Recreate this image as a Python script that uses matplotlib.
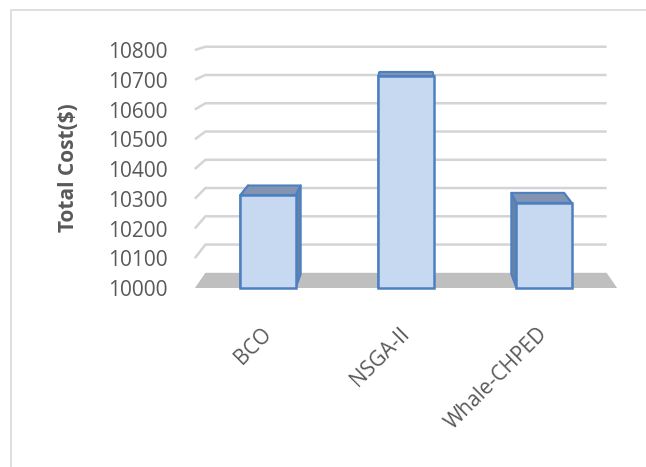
import matplotlib
matplotlib.use("Agg")
import matplotlib.pyplot as plt
from matplotlib.patches import Polygon, Rectangle

# Total generation cost per method
methods = ["BCO", "NSGA-II", "Whale-CHPED"]
total_cost = [10312, 10712, 10286]
y_ticks = [10000, 10100, 10200, 10300, 10400, 10500, 10600, 10700, 10800]

BASE = 10000
BAR_W = 0.4
# floor extent in category units and a simple one-point perspective
FLOOR_L, FLOOR_R = -0.53, 2.53
VX, VY = 1.0, 11020
T_WALL = 0.05
T_BAR = 0.046

TEXT = "#595959"
GRID = "#d4d4d4"
FLOOR = "#bfbfbf"
FRONT = "#c6d9f0"
EDGE = "#4d80c0"
TOP = "#8294b2"
SIDE = "#6a82a8"


def proj(x, y, t):
    """Push a point from the front plane toward the vanishing point."""
    return (x + (VX - x) * t, y + (VY - y) * t)


plt.rcParams["font.family"] = ["Open Sans", "DejaVu Sans"]

fig = plt.figure(figsize=(6.46, 4.67), dpi=100)
ax = fig.add_axes([180 / 646, 167 / 467, 450 / 646, 270 / 467])
ax.set_xlim(-88 / 138, 362 / 138)
ax.set_ylim(BASE - 12 / 0.2975, BASE + 258 / 0.2975)

# chart frame (only the left and top edges fall inside the image)
fig.add_artist(Rectangle((11 / 646, -0.1), 1.2, 1 - 10 / 467 + 0.1,
                         transform=fig.transFigure, fill=False,
                         edgecolor="#d9d9d9", linewidth=1.2))

# floor
floor = [(FLOOR_L, BASE), (FLOOR_R, BASE),
         proj(FLOOR_R, BASE, T_WALL), proj(FLOOR_L, BASE, T_WALL)]
ax.add_patch(Polygon(floor, closed=True, facecolor=FLOOR, edgecolor="none", zorder=1))

# back wall gridlines with the short diagonal along the side wall
for v in y_ticks[1:]:
    bl = proj(FLOOR_L, v, T_WALL)
    br = proj(FLOOR_R, v, T_WALL)
    ax.plot([FLOOR_L, bl[0], br[0]], [v, bl[1], br[1]],
            color=GRID, linewidth=1.8, solid_capstyle="butt", zorder=2)

# bars: sides and tops first, then the front faces
for i, v in enumerate(total_cost):
    xl, xr = i - BAR_W / 2, i + BAR_W / 2
    for xe in (xl, xr):
        side = [(xe, BASE), (xe, v), proj(xe, v, T_BAR), proj(xe, BASE, T_BAR)]
        ax.add_patch(Polygon(side, closed=True, facecolor=SIDE, edgecolor=EDGE,
                             linewidth=1.5, joinstyle="round", zorder=3))
    top = [(xl, v), (xr, v), proj(xr, v, T_BAR), proj(xl, v, T_BAR)]
    ax.add_patch(Polygon(top, closed=True, facecolor=TOP, edgecolor=EDGE,
                         linewidth=1.5, joinstyle="round", zorder=3))

ax.bar(range(len(methods)), [v - BASE for v in total_cost], bottom=BASE,
       width=BAR_W, color=FRONT, edgecolor=EDGE, linewidth=1.8, zorder=4)

ax.set_yticks(y_ticks)
ax.set_yticklabels([str(t) for t in y_ticks])
ax.set_xticks(range(len(methods)))
ax.set_xticklabels(methods, rotation=45, ha="right", va="center",
                   rotation_mode="anchor")
ax.tick_params(axis="y", length=0, pad=9, labelsize=15, labelcolor=TEXT)
ax.tick_params(axis="x", length=0, pad=22, labelsize=15, labelcolor=TEXT)
for s in ax.spines.values():
    s.set_visible(False)
ax.patch.set_visible(False)

fig.text(68 / 646, 1 - 168 / 467, "Total Cost($)", rotation=90,
         ha="center", va="center", fontsize=15, fontweight="bold", color=TEXT)

fig.savefig("out.png", dpi=100)
